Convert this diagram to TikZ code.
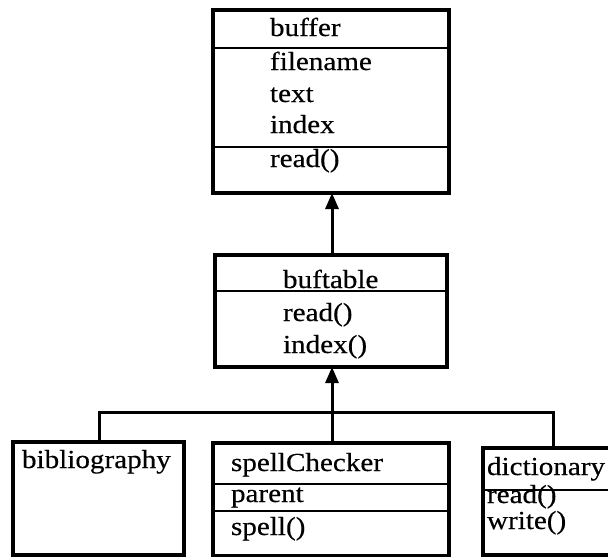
\documentclass[tikz,border=0pt]{standalone}
\usepackage{fontspec}
\newfontfamily\umlfont[FakeStretch=1.12,FakeBold=0.4]{Liberation Serif}
\usetikzlibrary{arrows.meta}
\tikzset{
  boxline/.style={line width=3.2pt, line join=miter},
  divline/.style={line width=2.6pt},
  txt/.style={anchor=base west, inner sep=0pt, outer sep=0pt, font=\umlfont\fontsize{26}{30}\selectfont},
  conn/.style={line width=3pt},
  inh/.style={conn, -{Triangle[length=16pt,width=13pt]}}
}
\begin{document}
\begin{tikzpicture}[x=1pt,y=-1pt]
\useasboundingbox (0,0) rectangle (608,557);
\clip (0,0) rectangle (608,557);
% buffer
\draw[boxline] (213,10) rectangle (449,193);
\coordinate (bufB) at (332,193);
\draw[divline] (213,48) -- (449,48);
\draw[divline] (213,147) -- (449,147);
\node[txt] (t1) at (270,36) {buffer};
\node[txt] (t2) at (270,70) {filename};
\node[txt] (t3) at (270,102) {text};
\node[txt] (t4) at (270,133) {index};
\node[txt] (t5) at (270,167) {read()};
% buftable
\draw[boxline] (215,255) rectangle (447,367);
\coordinate (btT) at (332,255);
\coordinate (btB) at (332,367);
\draw[divline] (215,291) -- (447,291);
\node[txt] (u1) at (283,288) {buftable};
\node[txt] (u2) at (283,321) {read()};
\node[txt] (u3) at (283,353) {index()};
% bibliography
\draw[boxline] (13,442) rectangle (184,555);
\coordinate (bibT) at (99,442);
\node[txt] (v1) at (22,468) {bibliography};
% spellChecker
\draw[boxline] (213,443) rectangle (449,556);
\coordinate (spT) at (332,443);
\draw[divline] (213,484) -- (449,484);
\draw[divline] (213,511) -- (449,511);
\node[txt] (w1) at (231,471) {spellChecker};
\node[txt] (w2) at (231,502) {parent};
\node[txt] (w3) at (231,535) {spell()};
% dictionary
\draw[boxline] (620,448) -- (483,448) -- (483,555) -- (620,555);
\coordinate (dicT) at (553,448);
\draw[divline] (483,490) -- (620,490);
\node[txt] (x1) at (487,475) {dictionary};
\node[txt] (x2) at (487,503) {read()};
\node[txt] (x3) at (487,529) {write()};
% connectors
\draw[inh] (btT) -- (bufB);
\coordinate (J) at (332,412);
\draw[conn] (bibT) |- (J) -| (dicT);
\draw[conn] (spT) -- (J);
\draw[inh] (J) -- (btB);
\end{tikzpicture}
\end{document}
